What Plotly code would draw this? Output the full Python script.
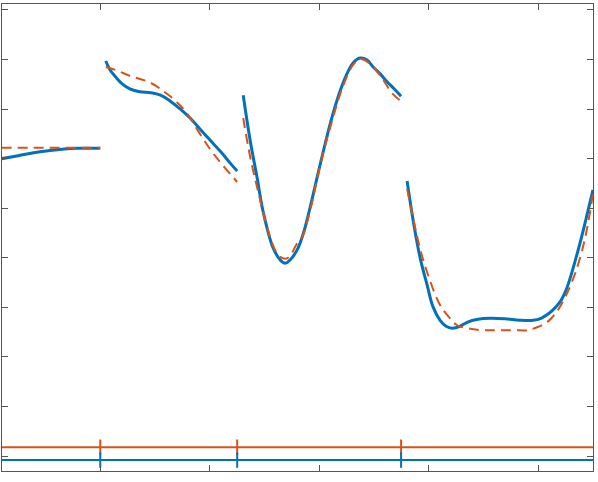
import plotly.graph_objects as go

# segment 1
seg1_x = [0.1, 0.25, 0.45, 0.65, 0.8, 1.0]
seg1_fit = [6.0, 6.06, 6.14, 6.19, 6.21, 6.21]
seg1_ref_x = [0.1, 1.0]
seg1_ref = [6.22, 6.22]

# segment 2
seg2_x = [1.05, 1.09, 1.14, 1.2, 1.27, 1.36, 1.46, 1.55, 1.64, 1.73, 1.82, 1.91, 2.0, 2.1, 2.19, 2.25]
seg2_fit = [7.97, 7.79, 7.65, 7.51, 7.41, 7.35, 7.33, 7.28, 7.16, 7.0, 6.82, 6.6, 6.38, 6.14, 5.9, 5.75]
seg2_ref_x = [1.05, 1.14, 1.27, 1.46, 1.59, 1.68, 1.79, 1.91, 2.03, 2.14, 2.25]
seg2_ref = [7.85, 7.79, 7.67, 7.53, 7.34, 7.18, 6.92, 6.5, 6.11, 5.81, 5.53]

# segment 3
seg3_x = [2.305, 2.369, 2.433, 2.487, 2.578, 2.642, 2.688, 2.734, 2.797, 2.852, 2.916,
          3.007, 3.117, 3.217, 3.308, 3.372, 3.436, 3.491, 3.555, 3.619, 3.682, 3.746]
seg3_fit = [7.28, 6.36, 5.6, 4.93, 4.2, 3.96, 3.89, 3.96, 4.16, 4.48, 5.02,
            5.88, 6.85, 7.53, 7.93, 8.03, 7.99, 7.85, 7.71, 7.55, 7.41, 7.26]
seg3_ref_x = [2.305, 2.369, 2.442, 2.505, 2.569, 2.624, 2.688, 2.734, 2.788, 2.843,
              2.916, 3.007, 3.117, 3.217, 3.308, 3.372, 3.464, 3.582, 3.664, 3.746]
seg3_ref = [6.82, 6.03, 5.33, 4.76, 4.3, 4.06, 3.98, 4.04, 4.26, 4.42,
            4.96, 5.86, 6.77, 7.47, 7.89, 8.01, 7.91, 7.59, 7.32, 7.16]

# segment 4
seg4_x = [3.801, 3.856, 3.92, 3.984, 4.038, 4.102, 4.157, 4.212, 4.285, 4.349, 4.449, 4.558,
          4.695, 4.832, 4.951, 5.024, 5.078, 5.133, 5.197, 5.252, 5.288, 5.334, 5.38, 5.434, 5.498]
seg4_fit = [5.55, 4.76, 4.0, 3.45, 3.01, 2.74, 2.62, 2.58, 2.62, 2.7, 2.76, 2.78,
            2.77, 2.74, 2.74, 2.78, 2.85, 2.95, 3.11, 3.35, 3.58, 3.93, 4.3, 4.78, 5.37]
seg4_ref_x = [3.801, 3.856, 3.92, 3.993, 4.102, 4.193, 4.257, 4.349, 4.495, 4.65, 4.787,
              4.896, 4.987, 5.078, 5.133, 5.179, 5.242, 5.307, 5.38, 5.44, 5.498]
seg4_ref = [5.39, 4.8, 4.18, 3.65, 3.05, 2.78, 2.64, 2.58, 2.54, 2.54, 2.54,
            2.54, 2.6, 2.7, 2.82, 2.95, 3.2, 3.52, 4.0, 4.55, 5.3]

# breakpoints and the two baseline levels
breaks = [1.0, 2.25, 3.746]
x_span = [0.103, 5.498]
ref_level = 0.18
fit_level = -0.08

BLUE = "#0072BD"
ORANGE = "#D95319"

fig = go.Figure()

segments = [
    (seg1_x, seg1_fit, seg1_ref_x, seg1_ref),
    (seg2_x, seg2_fit, seg2_ref_x, seg2_ref),
    (seg3_x, seg3_fit, seg3_ref_x, seg3_ref),
    (seg4_x, seg4_fit, seg4_ref_x, seg4_ref),
]
for fx, fy, rx, ry in segments:
    fig.add_trace(go.Scatter(x=fx, y=fy, mode="lines",
                             line=dict(color=BLUE, width=3, shape="spline", smoothing=1.1)))
    fig.add_trace(go.Scatter(x=rx, y=ry, mode="lines",
                             line=dict(color=ORANGE, width=2, dash="10px,6px",
                                       shape="spline", smoothing=1.1)))

# baselines with break markers
for level, color in [(ref_level, ORANGE), (fit_level, BLUE)]:
    fig.add_trace(go.Scatter(x=x_span, y=[level, level], mode="lines",
                             line=dict(color=color, width=2)))
    fig.add_trace(go.Scatter(x=breaks, y=[level] * len(breaks), mode="markers",
                             marker=dict(symbol="line-ns", size=11,
                                         line=dict(color=color, width=2))))

axis = dict(showgrid=False, zeroline=False, showline=True, linecolor="#555555",
            linewidth=1, mirror="ticks", ticks="inside", ticklen=6, tickcolor="#555555",
            showticklabels=False)
fig.update_xaxes(range=x_span, tickvals=[1, 2, 3, 4, 5], **axis)
fig.update_yaxes(range=[-0.30, 9.12], tickvals=list(range(10)), **axis)
fig.update_layout(width=598, height=482, showlegend=False,
                  margin=dict(l=2, r=5, t=4, b=11),
                  plot_bgcolor="white", paper_bgcolor="white")

fig.write_html("out.html", config={"displayModeBar": False},
               post_script="document.body.style.margin='0';")
